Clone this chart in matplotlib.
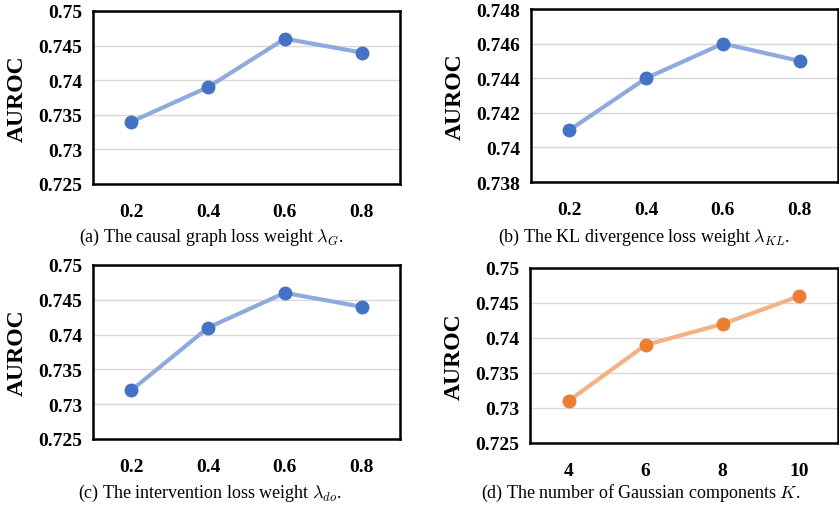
import matplotlib
matplotlib.use("Agg")
import matplotlib.pyplot as plt

plt.rcParams['mathtext.fontset'] = 'cm'

W, H = 839, 510

lam_ticks = ["0.2", "0.4", "0.6", "0.8"]
k_ticks = ["4", "6", "8", "10"]

auroc_g = [0.734, 0.739, 0.746, 0.744]
auroc_kl = [0.741, 0.744, 0.746, 0.745]
auroc_do = [0.732, 0.741, 0.746, 0.744]
auroc_k = [0.731, 0.739, 0.742, 0.746]

yticks_main = [0.725, 0.73, 0.735, 0.74, 0.745, 0.75]
ytick_labels_main = ["0.725", "0.73", "0.735", "0.74", "0.745", "0.75"]
yticks_kl = [0.738, 0.74, 0.742, 0.744, 0.746, 0.748]
ytick_labels_kl = ["0.738", "0.74", "0.742", "0.744", "0.746", "0.748"]

captions = [
    r"(a) The causal graph loss weight $\lambda_G$.",
    r"(b) The KL divergence loss weight $\lambda_{KL}$.",
    r"(c) The intervention loss weight $\lambda_{do}$.",
    r"(d) The number of Gaussian components $K$.",
]

BLUE_LINE, BLUE_MK = "#8FAADC", "#4472C4"
OR_LINE, OR_MK = "#F4B183", "#ED7D31"

fig = plt.figure(figsize=(W / 100, H / 100), dpi=100)

# pixel boxes: (left, top, right, bottom)
boxes = [
    (93, 12, 400, 185),
    (531, 10, 838, 183),
    (93, 266, 400, 440),
    (530, 269, 838, 444),
]
panels = [
    (lam_ticks, auroc_g, yticks_main, ytick_labels_main, BLUE_LINE, BLUE_MK),
    (lam_ticks, auroc_kl, yticks_kl, ytick_labels_kl, BLUE_LINE, BLUE_MK),
    (lam_ticks, auroc_do, yticks_main, ytick_labels_main, BLUE_LINE, BLUE_MK),
    (k_ticks, auroc_k, yticks_main, ytick_labels_main, OR_LINE, OR_MK),
]
cap_pos = [(211, 237), (644, 237), (210, 493), (641, 493)]

tickfont = dict(family="Liberation Serif", weight="bold", size=14)

for (l, t, r, b), (xt, ys, yt, ytl, lc, mc), cap, (cx, cy) in zip(boxes, panels, captions, cap_pos):
    ax = fig.add_axes([l / W, 1 - b / H, (r - l) / W, (b - t) / H])
    x = list(range(len(xt)))
    ax.plot(x, ys, color=lc, lw=3, zorder=3, solid_capstyle='round')
    ax.plot(x, ys, 'o', color=mc, ms=9, zorder=4)
    ax.set_xlim(-0.5, len(xt) - 0.5)
    ax.set_ylim(yt[0], yt[-1])
    ax.set_yticks(yt)
    ax.set_yticklabels(ytl, fontdict=tickfont)
    ax.set_xticks(x)
    ax.set_xticklabels(xt, fontdict=tickfont)
    ax.tick_params(length=0, axis='y', pad=8)
    ax.tick_params(length=0, axis='x', pad=14)
    ax.grid(axis='y', color="#D9D9D9", lw=1)
    ax.set_axisbelow(True)
    for s in ax.spines.values():
        s.set_linewidth(1.8)
        s.set_color("black")
    ax.set_ylabel("AUROC", fontdict=dict(family="Liberation Serif", weight="bold", size=17), labelpad=7)
    fig.text(cx / W, 1 - cy / H, cap, ha='center', va='center',
             family="Liberation Serif", size=13)

fig.savefig("out.png", dpi=100)
